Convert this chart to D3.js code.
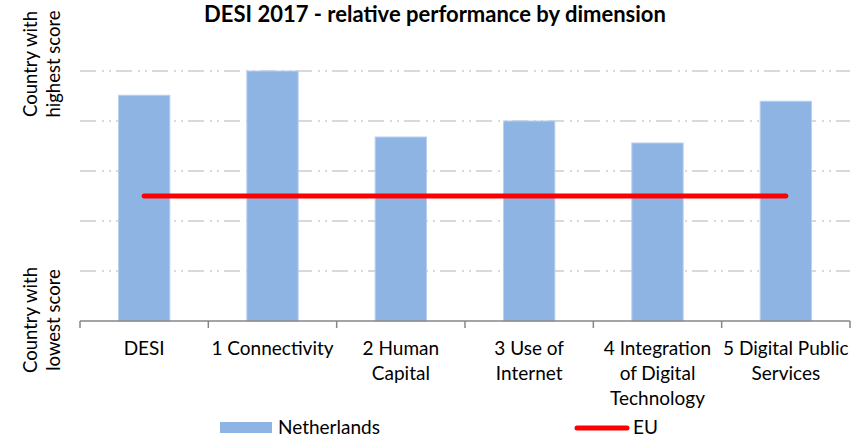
<!DOCTYPE html>
<html>
<head>
<meta charset="utf-8">
<script src="https://cdn.jsdelivr.net/npm/d3@7"></script>
<style>
  body { margin: 0; background: #fff; }
  text { font-family: Lato, "Open Sans", sans-serif; fill: #000; }
</style>
</head>
<body>
<div id="chart"></div>
<script>
// relative scores: 0 = country with lowest score, 1 = country with highest score
const categories = ["DESI", "1 Connectivity", "2 Human Capital", "3 Use of Internet",
                    "4 Integration of Digital Technology", "5 Digital Public Services"];
const categoryLines = [["DESI"], ["1 Connectivity"], ["2 Human", "Capital"], ["3 Use of", "Internet"],
                       ["4 Integration", "of Digital", "Technology"], ["5 Digital Public", "Services"]];
const netherlands = [0.903, 1.0, 0.736, 0.80, 0.712, 0.879];
const eu = [0.50, 0.50, 0.50, 0.50, 0.50, 0.50];
const gridTicks = [0.2, 0.4, 0.6, 0.8, 1.0];

const width = 856, height = 448;
const margin = {top: 71, right: 6, bottom: 127, left: 80};

const svg = d3.select("#chart").append("svg")
    .attr("width", width)
    .attr("height", height);

const x = d3.scaleBand()
    .domain(categories)
    .range([margin.left, width - margin.right])
    .paddingInner(0.6)
    .paddingOuter(0.3);

const y = d3.scaleLinear()
    .domain([0, 1])
    .range([height - margin.bottom, margin.top]);

// gridlines
svg.append("g")
    .selectAll("line")
    .data(gridTicks)
    .join("line")
    .attr("x1", margin.left)
    .attr("x2", width - margin.right)
    .attr("y1", d => y(d))
    .attr("y2", d => y(d))
    .attr("stroke", "#d9d9d9")
    .attr("stroke-width", 2)
    .attr("stroke-dasharray", "16,6,2,5,2,5");

// bars
svg.append("g")
    .selectAll("rect")
    .data(netherlands)
    .join("rect")
    .attr("x", (d, i) => x(categories[i]))
    .attr("y", d => y(d))
    .attr("width", x.bandwidth())
    .attr("height", d => y(0) - y(d))
    .attr("fill", "#8eb4e3")
    .attr("stroke", "#b9d0ee")
    .attr("stroke-width", 1);

// EU line
const line = d3.line()
    .x((d, i) => x(categories[i]) + x.bandwidth() / 2)
    .y(d => y(d));

svg.append("path")
    .datum(eu)
    .attr("d", line)
    .attr("fill", "none")
    .attr("stroke", "#ff0000")
    .attr("stroke-width", 5)
    .attr("stroke-linecap", "round");

// x axis: line with ticks at band edges
const axisY = y(0);
const step = x.step();
const edges = d3.range(categories.length + 1).map(i => margin.left + i * step);

svg.append("line")
    .attr("x1", margin.left)
    .attr("x2", width - margin.right)
    .attr("y1", axisY)
    .attr("y2", axisY)
    .attr("stroke", "#868686")
    .attr("stroke-width", 1.5);

svg.append("g")
    .selectAll("line")
    .data(edges)
    .join("line")
    .attr("x1", d => d)
    .attr("x2", d => d)
    .attr("y1", axisY)
    .attr("y2", axisY + 7)
    .attr("stroke", "#868686")
    .attr("stroke-width", 1.5);

// category labels
const labels = svg.append("g")
    .selectAll("text")
    .data(categories)
    .join("text")
    .attr("text-anchor", "middle")
    .attr("font-size", 19)
    .attr("x", d => x(d) + x.bandwidth() / 2)
    .attr("y", axisY + 34);

labels.selectAll("tspan")
    .data((d, i) => categoryLines[i])
    .join("tspan")
    .attr("x", function () { return this.parentNode.getAttribute("x"); })
    .attr("dy", (d, i) => i === 0 ? 0 : 25)
    .text(d => d);

// title
svg.append("text")
    .attr("x", 435)
    .attr("y", 22)
    .attr("text-anchor", "middle")
    .attr("font-size", 22)
    .attr("font-weight", "bold")
    .text("DESI 2017 - relative performance by dimension");

// y side labels
function sideLabel(lines, cy) {
    const t = svg.append("text")
        .attr("transform", `translate(37,${cy}) rotate(-90)`)
        .attr("text-anchor", "middle")
        .attr("font-size", 18.5);
    t.selectAll("tspan")
        .data(lines)
        .join("tspan")
        .attr("x", 0)
        .attr("dy", (d, i) => i === 0 ? 0 : 23)
        .text(d => d);
}
sideLabel(["Country with", "highest score"], 64);
sideLabel(["Country with", "lowest score"], 320);

// legend
const legend = svg.append("g");
legend.append("rect")
    .attr("x", 220).attr("y", 422)
    .attr("width", 52).attr("height", 11)
    .attr("fill", "#8eb4e3");
legend.append("text")
    .attr("x", 278).attr("y", 434)
    .attr("font-size", 19)
    .text("Netherlands");
legend.append("line")
    .attr("x1", 577).attr("x2", 627)
    .attr("y1", 428).attr("y2", 428)
    .attr("stroke", "#ff0000")
    .attr("stroke-width", 5)
    .attr("stroke-linecap", "round");
legend.append("text")
    .attr("x", 633).attr("y", 434)
    .attr("font-size", 19)
    .text("EU");
</script>
</body>
</html>
